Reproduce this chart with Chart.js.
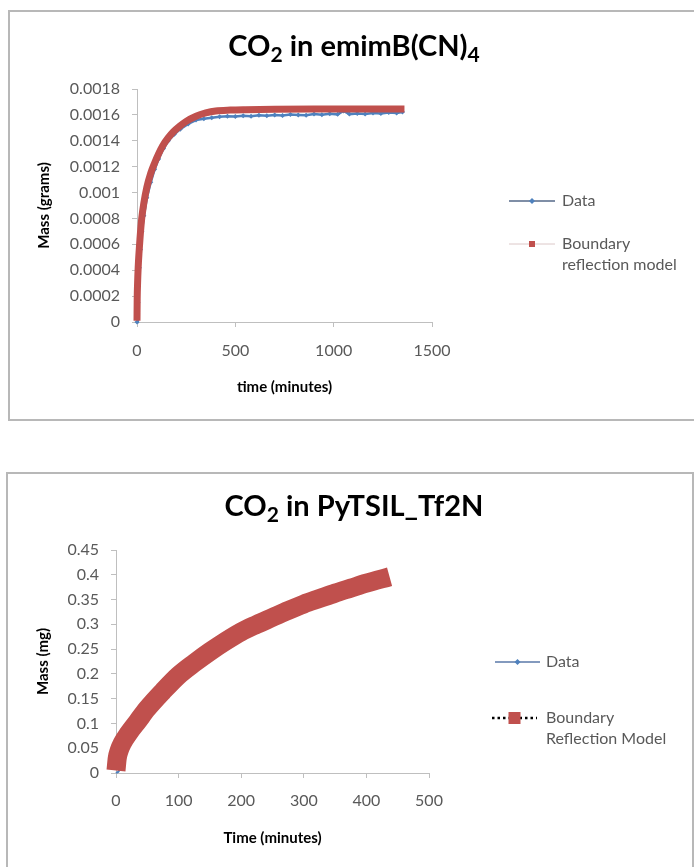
<!DOCTYPE html>
<html>
<head>
<meta charset="utf-8">
<script src="https://cdn.jsdelivr.net/npm/chart.js@4.4.0/dist/chart.umd.min.js"></script>
<style>
  body { margin: 0; background: #fff; width: 694px; height: 867px; overflow: hidden; position: relative; }
  .box { position: absolute; border: 2px solid #b8b8b8; box-sizing: border-box; }
  #box1 { left: 8px; top: 10px; width: 700px; height: 411px; }
  #box2 { left: 6px; top: 472px; width: 688px; height: 420px; }
  canvas { position: absolute; }
  #c1 { left: 9px; top: 11px; }
  #c2 { left: 7px; top: 473px; }
</style>
</head>
<body>
<div class="box" id="box1"></div>
<div class="box" id="box2"></div>
<canvas id="c1" width="685" height="408"></canvas>
<canvas id="c2" width="687" height="394"></canvas>
<script>
// chart 1 - CO2 in emimB(CN)4 (grams vs minutes)
const t1Data = [0, 3, 5, 8, 12, 18, 25, 35, 50, 70, 90, 110, 135, 160, 190, 220, 260, 300, 340, 380,
  420, 460, 500, 540, 580, 620, 660, 700, 740, 780, 820, 860, 900, 940, 980, 1020, 1050, 1080, 1120, 1160,
  1200, 1240, 1280, 1320, 1350];
const m1Data = [0, 0.00008, 0.00015, 0.0003, 0.00042, 0.00056, 0.0007, 0.00082, 0.00096, 0.00108,
  0.00118, 0.00126, 0.00134, 0.0014, 0.00145, 0.00149, 0.00153, 0.00156, 0.00157, 0.001578,
  0.001585, 0.00159, 0.001588, 0.001594, 0.00159, 0.001597, 0.001593, 0.0016, 0.001596, 0.001603,
  0.0016, 0.001598, 0.001606, 0.001602, 0.001608, 0.001604, 0.00163, 0.001606, 0.00161, 0.001607,
  0.001614, 0.00161, 0.001618, 0.001614, 0.001622];
const t1Model = [0, 1, 3, 6, 10, 15, 24, 35, 50, 70, 90, 110, 130, 157, 185, 215, 250, 300, 350, 400,
  475, 550, 700, 900, 1100, 1360];
const m1Model = [0.00001, 0.00018, 0.0003, 0.00042, 0.00053, 0.00064, 0.0008, 0.00092, 0.00104, 0.00115,
  0.00123, 0.0013, 0.00136, 0.00142, 0.00147, 0.00151, 0.00155, 0.00159, 0.001615, 0.00163,
  0.001637, 0.00164, 0.001643, 0.001645, 0.001645, 0.001645];
const yTicks1 = ['0', '0.0002', '0.0004', '0.0006', '0.0008', '0.001', '0.0012', '0.0014', '0.0016', '0.0018'];
const xTicks1 = ['0', '500', '1000', '1500'];

// chart 2 - CO2 in PyTSIL_Tf2N (mg vs minutes)
const t2Data = [0, 5, 10, 20, 30, 50, 75, 100, 150, 190, 250, 300, 350, 400, 430];
const m2Data = [0, 0.005, 0.03, 0.06, 0.085, 0.125, 0.165, 0.197, 0.25, 0.287, 0.315, 0.34, 0.362, 0.382, 0.392];
const t2Model = [0, 2, 5, 10, 20, 35, 50, 75, 100, 125, 150, 175, 200, 225, 250, 275, 300, 325, 350, 375, 400, 437];
const m2Model = [0.005, 0.03, 0.045, 0.06, 0.08, 0.105, 0.13, 0.165, 0.197, 0.222, 0.245, 0.266, 0.285,
  0.3, 0.314, 0.328, 0.341, 0.352, 0.363, 0.373, 0.383, 0.396];
const yTicks2 = ['0', '0.05', '0.1', '0.15', '0.2', '0.25', '0.3', '0.35', '0.4', '0.45'];
const xTicks2 = ['0', '100', '200', '300', '400', '500'];

const FONT = 'Lato, "Liberation Sans", sans-serif';
const RED = '#C0504D';
const BLUE = '#4F81BD';
const GREY_TXT = '#595959';
const AXIS = '#bfbfbf';

function pts(xs, ys) {
  return xs.map((x, i) => ({ x: x, y: ys[i] }));
}

// title with subscripts, excel style
function titlePlugin(parts, cx, baseline) {
  return {
    id: 'subTitle',
    afterDraw(chart) {
      const ctx = chart.ctx;
      ctx.save();
      ctx.fillStyle = '#000';
      ctx.textBaseline = 'alphabetic';
      let total = 0;
      parts.forEach(p => {
        ctx.font = 'bold ' + (p.sub ? 21 : 29) + 'px ' + FONT;
        total += ctx.measureText(p.t).width;
      });
      let x = cx - total / 2;
      parts.forEach(p => {
        ctx.font = 'bold ' + (p.sub ? 21 : 29) + 'px ' + FONT;
        ctx.fillText(p.t, x, baseline + (p.sub ? 6 : 0));
        x += ctx.measureText(p.t).width;
      });
      ctx.restore();
    }
  };
}

// legend on the right, drawn by hand
function legendPlugin(items) {
  return {
    id: 'sideLegend',
    afterDraw(chart) {
      const ctx = chart.ctx;
      ctx.save();
      items.forEach(it => {
        ctx.strokeStyle = it.lineColor;
        ctx.lineWidth = it.lineWidth;
        ctx.setLineDash(it.dash || []);
        ctx.beginPath();
        ctx.moveTo(it.x0, it.y);
        ctx.lineTo(it.x1, it.y);
        ctx.stroke();
        ctx.setLineDash([]);
        const mx = (it.x0 + it.x1) / 2;
        ctx.fillStyle = it.markColor;
        if (it.mark === 'diamond') {
          ctx.beginPath();
          ctx.moveTo(mx, it.y - 3);
          ctx.lineTo(mx + 3, it.y);
          ctx.lineTo(mx, it.y + 3);
          ctx.lineTo(mx - 3, it.y);
          ctx.closePath();
          ctx.fill();
        } else {
          ctx.fillRect(mx - it.size / 2, it.y - it.size / 2, it.size, it.size);
        }
        ctx.fillStyle = GREY_TXT;
        ctx.font = '16px ' + FONT;
        ctx.textBaseline = 'middle';
        it.text.forEach((line, k) => ctx.fillText(line, it.tx, it.y + k * 21));
      });
      ctx.restore();
    }
  };
}

function axisOpts(min, max, step, labels, pad, title, titlePad, fit) {
  return {
    type: 'linear',
    min: min,
    max: max,
    ticks: {
      stepSize: step,
      padding: pad,
      color: GREY_TXT,
      font: { family: FONT, size: 16 },
      callback: function(value, index) {
        return labels[index];
      }
    },
    grid: { drawOnChartArea: false, drawTicks: true, tickLength: 5, color: AXIS },
    border: { display: true, color: AXIS, width: 1 },
    title: {
      display: true,
      text: title,
      color: '#000',
      font: { family: FONT, size: 15, weight: 'bold' },
      padding: titlePad
    },
    afterFit: fit
  };
}

const chart1 = new Chart(document.getElementById('c1'), {
  type: 'scatter',
  data: {
    datasets: [
      {
        label: 'Boundary reflection model',
        data: pts(t1Model, m1Model),
        showLine: true,
        borderColor: RED,
        backgroundColor: RED,
        borderWidth: 7,
        borderJoinStyle: 'round',
        pointRadius: 0,
        cubicInterpolationMode: 'monotone',
        clip: false,
        order: 1
      },
      {
        label: 'Data',
        data: pts(t1Data, m1Data),
        showLine: true,
        borderColor: BLUE,
        backgroundColor: BLUE,
        borderWidth: 2.5,
        pointStyle: 'rectRot',
        pointRadius: 2.5,
        pointBorderWidth: 0,
        clip: false,
        order: 2
      }
    ]
  },
  options: {
    responsive: false,
    animation: false,
    layout: { padding: { left: 0, right: 262, top: 78, bottom: 0 } },
    plugins: { legend: { display: false }, title: { display: false }, tooltip: { enabled: false } },
    scales: {
      x: axisOpts(0, 1500, 500, xTicks1, 14, 'time (minutes)', { top: 0, bottom: 23 }, s => { s.height = 97; }),
      y: axisOpts(0, 0.0018, 0.0002, yTicks1, 12, 'Mass (grams)', { top: 26, bottom: 0 }, s => { s.width = 128; })
    }
  },
  plugins: [
    titlePlugin([{ t: 'CO' }, { t: '2', sub: true }, { t: ' in emimB(CN)' }, { t: '4', sub: true }], 345, 45),
    legendPlugin([
      { x0: 500, x1: 546, y: 190, lineColor: '#7f8ea6', lineWidth: 2, mark: 'diamond', markColor: BLUE,
        tx: 553, text: ['Data'] },
      { x0: 500, x1: 546, y: 233, lineColor: '#dcc8c8', lineWidth: 1, mark: 'square', size: 6, markColor: RED,
        tx: 553, text: ['Boundary', 'reflection model'] }
    ])
  ]
});

const chart2 = new Chart(document.getElementById('c2'), {
  type: 'scatter',
  data: {
    datasets: [
      {
        label: 'Boundary Reflection Model',
        data: pts(t2Model, m2Model),
        showLine: true,
        borderColor: RED,
        backgroundColor: RED,
        borderWidth: 19,
        borderJoinStyle: 'round',
        pointRadius: 0,
        cubicInterpolationMode: 'monotone',
        clip: false,
        order: 1
      },
      {
        label: 'Data',
        data: pts(t2Data, m2Data),
        showLine: true,
        borderColor: BLUE,
        backgroundColor: BLUE,
        borderWidth: 2,
        pointRadius: 0,
        cubicInterpolationMode: 'monotone',
        clip: false,
        order: 2
      }
    ]
  },
  options: {
    responsive: false,
    animation: false,
    layout: { padding: { left: 0, right: 265, top: 77, bottom: 0 } },
    plugins: { legend: { display: false }, title: { display: false }, tooltip: { enabled: false } },
    scales: {
      x: axisOpts(0, 500, 100, xTicks2, 13, 'Time (minutes)', { top: 0, bottom: 20 }, s => { s.height = 94; }),
      y: axisOpts(0, 0.45, 0.05, yTicks2, 12, 'Mass (mg)', { top: 27, bottom: 0 }, s => { s.width = 109; })
    }
  },
  plugins: [
    titlePlugin([{ t: 'CO' }, { t: '2', sub: true }, { t: ' in PyTSIL_Tf2N' }], 347, 43),
    legendPlugin([
      { x0: 488, x1: 533, y: 189, lineColor: '#5a78a8', lineWidth: 1.5, mark: 'diamond', markColor: BLUE,
        tx: 539, text: ['Data'] },
      { x0: 485, x1: 530, y: 245, lineColor: '#000', lineWidth: 2.5, dash: [2.5, 3], mark: 'square', size: 12,
        markColor: RED, tx: 539, text: ['Boundary', 'Reflection Model'] }
    ])
  ]
});
</script>
</body>
</html>
